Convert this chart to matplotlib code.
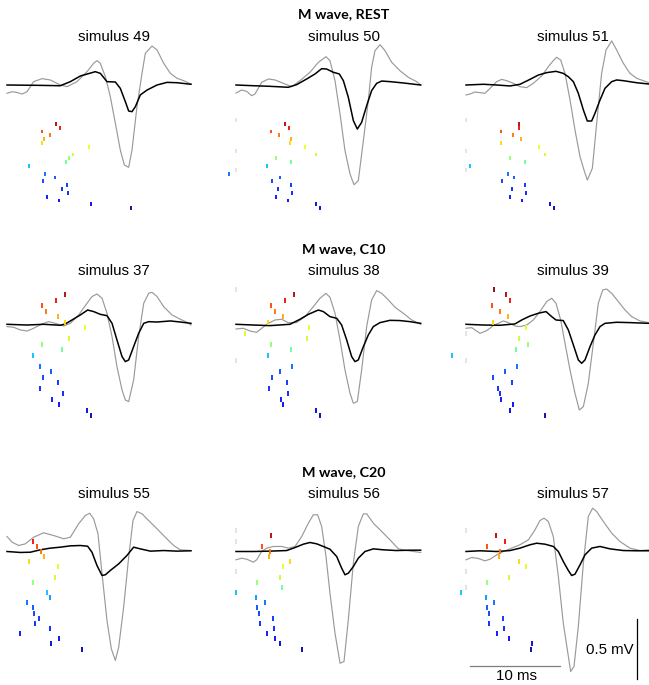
import numpy as np
import matplotlib.pyplot as plt
from matplotlib import cm

# --- figure geometry ---
W, H = 649, 685          # px
PX_MS = 9.0              # px per ms
PX_MV = 120.0            # px per mV

# --- M wave traces (t in ms, v in mV), per stimulus ---
# grey = recorded M wave, black = simulated
t_gray_49 = [0, 0.56, 1.04, 1.67, 2.22, 2.96, 3.89, 4.81, 5.93, 6.67, 7.78, 8.89, 9.63, 10.0, 10.37, 10.93,
             11.48, 12.04, 12.59, 13.04, 13.52, 13.89, 14.44, 15.0, 15.37, 16.11, 16.67, 17.41, 18.15, 18.89, 19.63, 20.44]
v_gray_49 = [-0.069, -0.056, -0.061, -0.075, -0.056, 0.028, 0.053, 0.042, 0, -0.014, 0.028, 0.111, 0.181, 0.203, 0.181, 0.069,
             -0.097, -0.319, -0.542, -0.667, -0.686, -0.542, -0.181, 0.097, 0.264, 0.325, 0.292, 0.181, 0.097, 0.056, 0.036, 0.008]
t_black_49 = [0, 3.7, 5.93, 7.04, 8.15, 9.81, 10.37, 11.11, 12.04, 12.59, 13.15, 13.52, 13.89, 14.26, 14.81, 15.56,
              16.67, 17.78, 18.89, 20.44]
v_black_49 = [0, -0.003, -0.006, 0.028, 0.075, 0.111, 0.097, 0.028, 0.025, -0.028, -0.139, -0.217, -0.222, -0.181, -0.083, -0.042,
              0, 0.022, 0.019, 0.006]

t_gray_50 = [0, 0.63, 1.19, 1.74, 2.11, 2.85, 3.59, 4.33, 5.63, 6.19, 7.11, 8.22, 9.15, 10.0, 10.44, 11.0, 11.56,
             12.11, 12.67, 13.11, 13.59, 14.15, 14.7, 15.07, 15.44, 16.0, 16.56, 17.3, 18.22, 19.15, 20.07, 20.52]
v_gray_50 = [-0.067, -0.042, -0.053, -0.089, -0.075, 0.022, 0.05, 0.042, 0.003, -0.014, 0.036, 0.106, 0.189, 0.236, 0.203, 0.036, -0.242,
             -0.547, -0.742, -0.831, -0.797, -0.464, -0.131, 0.147, 0.286, 0.336, 0.286, 0.189, 0.119, 0.064, 0.028, 0]
t_black_50 = [0, 1.93, 3.78, 5.81, 6.74, 7.85, 8.78, 9.52, 10.07, 10.81, 11.48, 11.93, 12.48, 13.04, 13.48, 13.96,
              14.52, 15.07, 15.63, 16.19, 17.11, 18.59, 20.52]
v_black_50 = [0, -0.006, -0.011, -0.019, 0.003, 0.05, 0.092, 0.136, 0.133, 0.106, 0.092, 0.036, -0.103, -0.297, -0.367, -0.311,
              -0.172, -0.047, 0.014, 0.033, 0.028, 0.017, 0]

t_gray_51 = [0, 0.44, 1.0, 1.56, 2.11, 2.67, 3.41, 3.96, 4.52, 5.26, 6.0, 6.74, 7.48, 8.41, 9.15, 9.7, 10.07, 10.52,
             11.0, 11.56, 12.11, 12.67, 13.11, 13.48, 14.04, 14.52, 15.07, 15.56, 16.19, 16.74, 17.48, 18.22, 18.96, 19.7, 20.33]
v_gray_51 = [-0.083, -0.075, -0.058, -0.064, -0.069, -0.028, 0.028, 0.047, 0.036, 0.014, -0.014, -0.022, 0.014, 0.075, 0.153, 0.203, 0.231, 0.208,
             0.097, -0.125, -0.375, -0.597, -0.708, -0.792, -0.694, -0.319, 0.097, 0.292, 0.367, 0.292, 0.181, 0.097, 0.056, 0.036, 0.019]
t_black_51 = [0, 1.93, 3.41, 4.89, 6.0, 7.11, 8.04, 8.96, 10.0, 10.81, 11.37, 11.93, 12.48, 13.04, 13.48, 13.96,
              14.33, 14.89, 15.44, 16.19, 16.74, 17.48, 18.96, 20.33]
v_black_51 = [0, 0.006, 0, -0.008, 0.006, 0.047, 0.083, 0.103, 0.114, 0.097, 0.069, 0.028, -0.069, -0.208, -0.3, -0.3,
              -0.236, -0.125, -0.028, 0.028, 0.042, 0.036, 0.019, 0.008]

t_gray_37 = [0, 0.74, 1.48, 2.22, 2.96, 3.89, 4.63, 5.37, 6.3, 7.04, 7.96, 8.89, 9.44, 10.0, 10.56, 11.11,
             11.67, 12.22, 12.78, 13.15, 13.52, 14.07, 14.63, 15.19, 15.74, 16.11, 16.67, 17.41, 18.33, 19.26, 20.0, 20.44]
v_gray_37 = [-0.019, -0.025, -0.047, -0.056, -0.033, 0.003, 0.022, 0.008, -0.014, 0.008, 0.078, 0.175, 0.231, 0.253, 0.217, 0.092,
             -0.103, -0.353, -0.547, -0.631, -0.644, -0.464, -0.103, 0.175, 0.258, 0.267, 0.231, 0.147, 0.078, 0.042, 0.017, -0.006]
t_black_37 = [0, 2.22, 4.07, 5.93, 6.48, 7.22, 8.15, 8.96, 9.63, 10.37, 11.11, 11.67, 12.22, 12.78, 13.15, 13.52,
              14.07, 14.63, 15.19, 15.74, 16.67, 18.15, 19.26, 20.44]
v_black_37 = [0, -0.006, 0, -0.008, 0.003, 0.036, 0.078, 0.119, 0.106, 0.083, 0.072, 0.008, -0.131, -0.269, -0.311, -0.297,
              -0.186, -0.075, 0.008, 0.022, 0.019, 0.028, 0.019, 0.008]

t_gray_38 = [0, 0.81, 1.56, 2.3, 2.85, 3.59, 4.33, 5.07, 5.81, 6.74, 7.67, 8.59, 9.33, 10.0, 10.44, 11.0,
             11.56, 12.11, 12.67, 13.04, 13.48, 13.96, 14.52, 15.07, 15.63, 16.19, 16.93, 17.67, 18.59, 19.52, 20.52]
v_gray_38 = [-0.039, -0.033, -0.056, -0.067, -0.033, 0.008, 0.036, 0.042, 0.014, 0.014, 0.064, 0.147, 0.217, 0.258, 0.225, 0.092,
             -0.131, -0.381, -0.575, -0.658, -0.644, -0.381, -0.019, 0.203, 0.281, 0.258, 0.203, 0.142, 0.092, 0.036, 0]
t_black_38 = [0, 1.93, 3.78, 6.0, 7.11, 8.04, 9.15, 9.7, 10.44, 11.19, 11.74, 12.3, 12.85, 13.22, 13.59, 14.15,
              14.7, 15.26, 16.0, 17.11, 18.22, 19.33, 20.52]
v_black_38 = [0, -0.006, -0.011, 0, 0.042, 0.083, 0.119, 0.106, 0.064, 0.05, -0.006, -0.131, -0.269, -0.311, -0.297, -0.186,
              -0.089, -0.019, 0.014, 0.033, 0.031, 0.022, 0.008]

t_gray_39 = [0, 0.63, 1.56, 2.3, 3.04, 3.59, 4.15, 4.7, 5.44, 6.0, 6.74, 7.48, 8.22, 8.96, 9.52, 10.0, 10.52,
             11.0, 11.56, 12.11, 12.59, 13.04, 13.59, 14.15, 14.7, 15.19, 15.63, 16.19, 16.93, 17.67, 18.41, 19.33, 20.33]
v_gray_39 = [-0.033, -0.028, -0.075, -0.053, -0.011, 0.008, 0.028, 0.014, -0.014, -0.019, -0.006, 0.036, 0.106, 0.189, 0.217, 0.175, 0.036,
             -0.158, -0.381, -0.575, -0.714, -0.686, -0.492, -0.158, 0.175, 0.286, 0.294, 0.258, 0.189, 0.119, 0.064, 0.028, 0.014]
t_black_39 = [0, 1.93, 3.78, 5.44, 6.19, 7.11, 8.04, 8.89, 9.52, 10.0, 10.81, 11.37, 11.93, 12.48, 12.85, 13.22,
              13.78, 14.33, 14.89, 15.44, 16.74, 18.22, 20.33]
v_black_39 = [0, -0.006, -0.008, 0.003, 0.036, 0.069, 0.092, 0.106, 0.064, 0.036, 0.031, -0.047, -0.172, -0.297, -0.325, -0.297,
              -0.186, -0.089, -0.019, 0.008, 0.017, 0.014, 0.008]

t_gray_55 = [0, 0.56, 1.3, 2.04, 2.96, 4.07, 5.19, 6.3, 7.04, 7.96, 8.7, 9.19, 9.63, 10.11, 10.56,
             11.11, 11.59, 12.04, 12.41, 12.96, 13.52, 14.0, 14.44, 15.0, 15.74, 16.67, 17.59, 18.52, 19.26, 20.44]
v_gray_55 = [0.125, 0.078, 0.05, 0.064, 0.119, 0.156, 0.133, 0.106, 0.119, 0.231, 0.3, 0.319, 0.272, 0.147, -0.186,
             -0.575, -0.811, -0.908, -0.797, -0.464, -0.047, 0.258, 0.333, 0.314, 0.258, 0.189, 0.119, 0.05, 0.014, 0.008]
t_black_55 = [0, 1.48, 2.59, 3.7, 4.81, 5.93, 7.04, 8.15, 8.96, 9.44, 10.0, 10.56, 10.93, 11.48, 12.41,
              13.33, 14.07, 14.81, 15.93, 17.41, 18.89, 20.44]
v_black_55 = [0, -0.008, -0.006, 0.014, 0.028, 0.036, 0.047, 0.05, 0.044, -0.006, -0.117, -0.2, -0.194, -0.158, -0.103,
              -0.033, 0.036, 0.022, 0.003, 0.008, 0.003, 0.006]

t_gray_56 = [0, 0.63, 1.19, 1.93, 2.3, 2.85, 3.41, 4.15, 5.07, 5.81, 6.56, 7.3, 8.04, 8.59, 9.07, 9.52,
             10.0, 10.44, 11.0, 11.56, 12.0, 12.48, 13.04, 13.59, 14.15, 14.52, 15.26, 16.19, 17.11, 18.04, 18.96, 20.52]
v_gray_56 = [-0.069, -0.056, -0.064, -0.089, -0.069, 0, 0.028, 0.042, 0.042, 0.028, 0.042, 0.125, 0.236, 0.306, 0.306, 0.208,
             -0.042, -0.347, -0.681, -0.931, -0.917, -0.569, -0.097, 0.208, 0.314, 0.314, 0.236, 0.167, 0.097, 0.022, 0.008, -0.008]
t_black_56 = [0, 1.93, 3.78, 5.63, 6.56, 7.48, 8.22, 8.96, 9.7, 10.44, 11.19, 11.74, 12.11, 12.48, 13.04,
              13.59, 14.33, 15.26, 16.37, 17.85, 19.33, 20.52]
v_black_56 = [0, 0, 0.003, 0.008, 0.033, 0.061, 0.075, 0.064, 0.042, 0.019, -0.042, -0.139, -0.194, -0.181, -0.125,
              -0.056, 0, 0.022, 0.014, 0.008, 0.011, 0.011]

t_gray_57 = [0, 0.63, 1.37, 2.11, 2.67, 3.41, 4.15, 5.07, 6.0, 6.93, 7.67, 8.22, 8.67, 9.15, 9.7, 10.26,
             10.81, 11.26, 11.63, 12.0, 12.48, 13.04, 13.59, 14.07, 14.52, 15.26, 16.19, 17.11, 18.22, 19.33, 20.33]
v_gray_57 = [-0.069, -0.05, -0.058, -0.078, -0.064, -0.028, 0, 0.028, 0.056, 0.097, 0.181, 0.258, 0.278, 0.25, 0.125, -0.208,
             -0.597, -0.819, -1.0, -0.958, -0.625, -0.097, 0.292, 0.361, 0.333, 0.25, 0.153, 0.083, 0.028, 0.008, 0.014]
t_black_57 = [0, 1.56, 3.41, 4.89, 6.0, 7.11, 7.85, 8.78, 9.7, 10.26, 10.81, 11.37, 11.74, 12.11, 12.67,
              13.22, 13.96, 14.89, 16.0, 17.48, 18.96, 20.33]
v_black_57 = [0, 0.006, 0, 0.008, 0.028, 0.056, 0.069, 0.061, 0.042, 0, -0.083, -0.158, -0.2, -0.189, -0.111,
              -0.028, 0.028, 0.042, 0.022, 0.008, 0.006, 0.006]

# --- motor unit firing times (ms), one entry per unit, top unit first ---
fire_49 = [None, 5.41, 5.93, 3.85, 4.78, 4.11, 3.93, 9.15, None, 7.30, 6.89, 6.56, 2.44, None,
           4.19, 5.37, 4.00, 6.63, 6.11, 6.74, 4.44, 5.74, 9.37, 13.78]
fire_50 = [None, 5.44, 5.93, 3.89, 4.81, 6.15, 5.96, 7.67, None, 8.89, 4.41, 6.07, 3.48, None,
           -0.78, 4.89, 4.00, 6.11, 4.63, 6.22, 4.41, 5.78, 8.85, 9.30]
fire_51 = [None, 5.85, 5.85, 3.85, 5.26, 6.11, 3.93, 8.11, None, 8.81, 4.85, 6.56, 0.44, None,
           4.67, 5.33, 4.00, 6.59, 5.11, 6.70, 4.93, 6.22, 9.37, 9.78]
fire_37 = [None, 6.41, 5.41, 3.89, 4.30, 5.70, 6.48, 8.70, None, 6.85, 3.89, 6.11, 2.93, None,
           3.70, 4.89, 4.04, 5.63, 3.63, 6.26, 4.96, 5.81, 8.89, 9.33]
fire_38 = [None, 6.48, 5.41, 3.89, 4.30, 5.19, 3.56, 8.15, 0.96, 7.85, 3.85, 6.07, 3.52, None,
           6.19, 4.89, 4.04, 5.67, 3.67, 5.78, 4.96, 5.26, 8.89, 9.30]
fire_39 = [3.11, 4.44, 4.89, 2.89, 3.78, 4.67, 2.96, 6.67, None, 5.85, 6.85, 5.56, -1.59, None,
           5.70, 4.37, 3.04, 5.15, 3.59, 3.74, 3.89, 5.26, 4.89, 8.81]
fire_55 = [None, None, 2.89, 3.33, 3.78, 4.15, 2.44, 5.67, None, 5.33, 2.89, None, 4.41, 4.74,
           2.19, 2.85, 3.04, 3.59, 3.11, 4.74, 1.44, 5.74, 4.89, 8.30]
fire_56 = [None, 3.93, None, 2.89, 3.78, 3.70, 5.96, 5.19, None, 4.89, 2.37, 5.11, -0.04, 2.26,
           3.19, 2.33, 2.52, 4.11, 2.67, 4.22, 3.44, 4.30, 4.89, 7.30]
fire_57 = [None, 3.37, 4.37, 2.37, 3.74, 3.63, 5.93, 6.63, None, 4.81, 2.37, None, -0.56, 2.26,
           3.15, 2.30, 2.52, 4.07, 2.59, 4.22, 3.44, 4.74, 7.33, 7.19]

# units that did not fire (drawn at t = 0 in light grey)
silent_49 = []
silent_50 = [0, 8, 13]
silent_51 = [0, 8, 13]
silent_37 = []
silent_38 = [0, 13]
silent_39 = [8, 13]
silent_55 = []
silent_56 = [0, 2, 8]
silent_57 = [0, 8, 11]

# jet level of each unit (top unit = highest threshold)
unit_level = [1.0, 0.95, 0.9, 0.84, 0.79, 0.73, 0.68, 0.63, 0.61, 0.59, 0.52, 0.47, 0.31, 0.27,
              0.23, 0.2, 0.18, 0.17, 0.16, 0.15, 0.14, 0.12, 0.08, 0.03]

row_titles = ["M wave, REST", "M wave, C10", "M wave, C20"]
stim_ids = [[49, 50, 51], [37, 38, 39], [55, 56, 57]]

D = globals()

# layout (px): panel origins and raster placement
col_x0 = [7, 236, 466]
row_y0 = [85, 324.3, 551.5]
raster_off = [35, -35, -20.7]      # first unit row relative to baseline
raster_step = [3.83, 5.5, 5.14]
tick_len = [3.8, 5.0, 5.0]
sub_base = [41, 275, 498.5]
sup_base = [18.3, 253.3, 476]
col_cx = [114, 344, 573]

plt.rcParams['font.family'] = ['Liberation Sans', 'DejaVu Sans']
fig = plt.figure(figsize=(W / 100, H / 100), dpi=100)
jet = plt.get_cmap('jet')


def add_panel(x0, y0):
    t_lo, t_hi, v_lo, v_hi = -3.0, 24.0, -1.25, 0.6
    left = x0 + t_lo * PX_MS
    top = y0 - v_hi * PX_MV
    w = (t_hi - t_lo) * PX_MS
    h = (v_hi - v_lo) * PX_MV
    ax = fig.add_axes([left / W, 1 - (top + h) / H, w / W, h / H])
    ax.set_xlim(t_lo, t_hi)
    ax.set_ylim(v_lo, v_hi)
    ax.axis('off')
    ax.patch.set_visible(False)
    return ax


axes = {}
for r in range(3):
    fig.text(344 / W, 1 - sup_base[r] / H, row_titles[r], ha='center', va='baseline',
             fontsize=10.3, fontweight='bold', family=['Lato', 'DejaVu Sans'])
    for c in range(3):
        sid = stim_ids[r][c]
        ax = add_panel(col_x0[c], row_y0[r])
        axes[(r, c)] = ax
        fig.text(col_cx[c] / W, 1 - sub_base[r] / H, f"simulus {sid}", ha='center',
                 va='baseline', fontsize=10.8)

        ax.plot(D[f"t_gray_{sid}"], D[f"v_gray_{sid}"], color='#9a9a9a', lw=0.85, zorder=2)
        ax.plot(D[f"t_black_{sid}"], D[f"v_black_{sid}"], color='black', lw=1.1, zorder=3)

        half = tick_len[r] / 2 / PX_MV
        for u, tf in enumerate(D[f"fire_{sid}"]):
            yc = -(raster_off[r] + u * raster_step[r]) / PX_MV
            if tf is not None:
                ax.vlines(tf, yc - half, yc + half, colors=[jet(unit_level[u])], lw=1.3, zorder=4)
        for u in D[f"silent_{sid}"]:
            yc = -(raster_off[r] + u * raster_step[r]) / PX_MV
            ax.vlines(0, yc - half, yc + half, colors='#e2e2e2', lw=1.3, zorder=1)

# scale bars in the last panel
ax = axes[(2, 2)]
ax.plot([0.44, 10.44], [-0.952, -0.952], color='#7f7f7f', lw=0.9, clip_on=False)
ax.text(5.6, -1.04, "10 ms", ha='center', va='center', fontsize=10.8)
ax.plot([19.03, 19.03], [-0.565, -1.065], color='black', lw=0.9, clip_on=False)
ax.text(18.6, -0.82, "0.5 mV", ha='right', va='center', fontsize=10.8)

fig.savefig("out.png", dpi=100)
